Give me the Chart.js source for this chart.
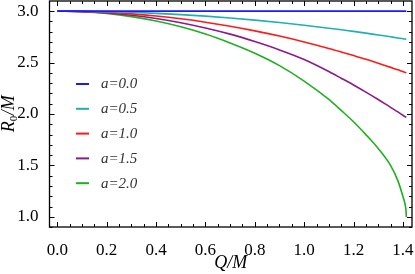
<!DOCTYPE html>
<html>
<head>
<meta charset="utf-8">
<script src="https://cdn.jsdelivr.net/npm/chart.js@4.4.1/dist/chart.umd.min.js"></script>
<style>
  html, body { margin: 0; padding: 0; background: #fff; }
  #wrap { width: 415px; height: 274px; }
</style>
</head>
<body>
<div id="wrap"><canvas id="c" width="415" height="274"></canvas></div>
<script>
// ---- data ----
const qValues = [0, 0.1, 0.2, 0.3, 0.4, 0.5, 0.6, 0.7, 0.8, 0.9, 1.0, 1.1, 1.15, 1.2, 1.25, 1.3, 1.35, 1.38, 1.40, 1.41, 1.413, 1.414];
const seriesLabels = ["a=0.0", "a=0.5", "a=1.0", "a=1.5", "a=2.0"];
const rA00 = [3.0, 3.0, 3.0, 3.0, 3.0, 3.0, 3.0, 3.0, 3.0, 3.0, 3.0, 3.0, 3.0, 3.0, 3.0, 3.0, 3.0, 3.0, 3.0, 3.0, 3.0, 3.0];
const rA05 = [3.0, 2.999, 2.995, 2.988, 2.978, 2.966, 2.951, 2.933, 2.912, 2.889, 2.863, 2.834, 2.818, 2.803, 2.786, 2.768, 2.750, 2.739, 2.731, 2.728, 2.727, 2.726];
const rA10 = [3.0, 2.997, 2.988, 2.973, 2.952, 2.925, 2.892, 2.853, 2.808, 2.757, 2.700, 2.637, 2.603, 2.568, 2.532, 2.493, 2.453, 2.429, 2.412, 2.404, 2.401, 2.400];
const rA15 = [3.0, 2.995, 2.982, 2.959, 2.928, 2.887, 2.836, 2.776, 2.704, 2.623, 2.530, 2.413, 2.348, 2.282, 2.213, 2.141, 2.065, 2.020, 1.988, 1.973, 1.969, 1.967];
const rA20 = [3.0, 2.994, 2.976, 2.946, 2.903, 2.847, 2.777, 2.690, 2.590, 2.470, 2.320, 2.141, 2.035, 1.925, 1.800, 1.665, 1.500, 1.350, 1.200, 1.110, 1.050, 1.000];
const xTickValues = [0, 0.2, 0.4, 0.6, 0.8, 1.0, 1.2, 1.4];
const yTickValues = [1.0, 1.5, 2.0, 2.5, 3.0];

const seriesColors = ["#1a1aff", "#1fb0b0", "#ff1a1a", "#8c1a8c", "#1fb01f"];
const allSeries = [rA00, rA05, rA10, rA15, rA20];

const datasets = allSeries.map((arr, i) => ({
  label: seriesLabels[i],
  data: arr.map((v, k) => ({ x: qValues[k], y: v })),
  borderColor: seriesColors[i],
  backgroundColor: seriesColors[i],
  borderWidth: 1.6,
  pointRadius: 0,
  fill: false,
  cubicInterpolationMode: 'monotone'
}));

const SERIF = "'Liberation Serif', 'DejaVu Serif', serif";

const framePlugin = {
  id: 'frame',
  afterDraw(chart) {
    const { ctx, chartArea: a, scales } = chart;
    const xs = scales.x, ys = scales.y;
    ctx.save();
    ctx.strokeStyle = '#000';
    ctx.lineWidth = 1.3;
    ctx.strokeRect(a.left, a.top, a.right - a.left, a.bottom - a.top);
    ctx.lineWidth = 1;
    for (let k = 0; k <= 28; k++) {
      const v = k * 0.05;
      const px = Math.round(xs.getPixelForValue(v)) + 0.5;
      const len = (k % 4 === 0) ? 5 : 3;
      ctx.beginPath();
      ctx.moveTo(px, a.bottom); ctx.lineTo(px, a.bottom - len);
      ctx.moveTo(px, a.top); ctx.lineTo(px, a.top + len);
      ctx.stroke();
    }
    for (let k = 9; k <= 30; k++) {
      const v = k * 0.1;
      const py = Math.round(ys.getPixelForValue(v)) + 0.5;
      const len = (k % 5 === 0) ? 5 : 3;
      ctx.beginPath();
      ctx.moveTo(a.left, py); ctx.lineTo(a.left + len, py);
      ctx.moveTo(a.right, py); ctx.lineTo(a.right - len, py);
      ctx.stroke();
    }
    // legend
    ctx.textBaseline = 'middle';
    ctx.textAlign = 'left';
    ctx.font = "italic 15px " + SERIF;
    chart.data.datasets.forEach((ds, i) => {
      const y = 84 + 24.8 * i;
      ctx.strokeStyle = ds.borderColor;
      ctx.lineWidth = 2;
      ctx.beginPath();
      ctx.moveTo(76, y); ctx.lineTo(89, y);
      ctx.stroke();
      ctx.fillStyle = '#333';
      ctx.fillText(ds.label, 101, y + 0.5);
    });
    // x axis title
    ctx.fillStyle = '#000';
    ctx.font = "italic 18px " + SERIF;
    ctx.textAlign = 'center';
    ctx.textBaseline = 'alphabetic';
    ctx.fillText('Q/M', (a.left + a.right) / 2, 268);
    // y axis title (rotated)
    ctx.save();
    ctx.translate(14, 114);
    ctx.rotate(-Math.PI / 2);
    ctx.textAlign = 'left';
    ctx.textBaseline = 'alphabetic';
    const fBig = "italic 18px " + SERIF;
    const fSub = "11px " + SERIF;
    ctx.font = fBig; const wR = ctx.measureText('R').width;
    ctx.font = fSub; const w0 = ctx.measureText('0').width;
    ctx.font = fBig; const wM = ctx.measureText('/M').width;
    const x0 = -(wR + w0 + wM) / 2;
    ctx.font = fBig; ctx.fillText('R', x0, 0);
    ctx.font = fSub; ctx.fillText('0', x0 + wR, 3);
    ctx.font = fBig; ctx.fillText('/M', x0 + wR + w0 + 0.5, 0);
    ctx.restore();
    ctx.restore();
  }
};

new Chart(document.getElementById('c'), {
  type: 'line',
  data: { datasets },
  options: {
    responsive: false,
    animation: false,
    layout: { padding: { top: 1, right: 3, left: 0, bottom: 0 } },
    plugins: { legend: { display: false }, tooltip: { enabled: false } },
    scales: {
      x: {
        type: 'linear',
        min: -0.032,
        max: 1.437,
        grid: { display: false },
        border: { display: false },
        afterBuildTicks(s) { s.ticks = xTickValues.map(v => ({ value: v })); },
        afterFit(s) { s.height = 47; s.paddingLeft = 0; s.paddingRight = 0; },
        ticks: {
          font: { family: SERIF, size: 17 },
          color: '#000',
          padding: 5,
          maxRotation: 0,
          callback: v => Number(v).toFixed(1)
        }
      },
      y: {
        type: 'linear',
        min: 0.902,
        max: 3.098,
        grid: { display: false },
        border: { display: false },
        afterBuildTicks(s) { s.ticks = yTickValues.map(v => ({ value: v })); },
        afterFit(s) { s.width = 49.5; s.paddingTop = 0; s.paddingBottom = 0; },
        ticks: {
          font: { family: SERIF, size: 17 },
          color: '#000',
          padding: 3,
          callback: v => Number(v).toFixed(1)
        }
      }
    }
  },
  plugins: [framePlugin]
});
</script>
</body>
</html>
